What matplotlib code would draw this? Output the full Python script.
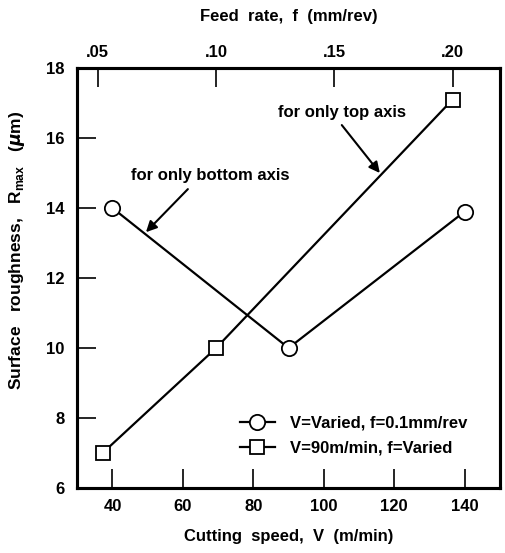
import matplotlib.pyplot as plt

plt.rcParams['font.family'] = ['Liberation Sans', 'DejaVu Sans']
plt.rcParams['font.weight'] = 'bold'
plt.rcParams['mathtext.fontset'] = 'custom'
plt.rcParams['mathtext.rm'] = 'Liberation Sans:bold'

# circles: speed varied, f = 0.1 mm/rev (bottom axis)
speed = [40, 90, 140]
ra_speed = [14.0, 10.0, 13.9]
# squares: V = 90 m/min, feed varied (top axis)
feed = [0.052, 0.10, 0.20]
ra_feed = [7.0, 10.0, 17.1]

speed_ticks = [40, 60, 80, 100, 120, 140]
feed_ticks = [0.05, 0.10, 0.15, 0.20]
feed_labels = ['.05', '.10', '.15', '.20']
ra_ticks = [6, 8, 10, 12, 14, 16, 18]

fig = plt.figure(figsize=(5.05, 5.53), dpi=100)
ax = fig.add_axes([0.153, 0.1175, 0.837, 0.7595])
ax2 = ax.twiny()

fs = 12
ax.plot(speed, ra_speed, color='black', lw=1.6, marker='o', ms=11,
        mfc='white', mec='black', mew=1.3, label='V=Varied, f=0.1mm/rev', zorder=3)
ax2.plot(feed, ra_feed, color='black', lw=1.6, marker='s', ms=10.5,
         mfc='white', mec='black', mew=1.3, label='V=90m/min, f=Varied', zorder=3)

ax.set_xlim(30, 150)
ax.set_ylim(6, 18)
ax2.set_xlim(0.0413, 0.22)
ax.set_xticks(speed_ticks)
ax.set_yticks(ra_ticks)
ax2.set_xticks(feed_ticks)
ax2.set_xticklabels(feed_labels)

ax.tick_params(axis='x', direction='in', length=14, width=1.2, pad=8,
               labelsize=fs, top=False)
ax.tick_params(axis='y', direction='in', length=14, width=1.2, pad=9,
               labelsize=fs, right=False)
ax2.tick_params(axis='x', direction='in', length=14, width=1.2, pad=6,
                labelsize=fs, bottom=False)
for a in (ax, ax2):
    for s in a.spines.values():
        s.set_linewidth(2.2)

ax.set_xlabel('Cutting  speed,  V  (m/min)', fontsize=fs, fontweight='bold', labelpad=11)
ax2.set_xlabel('Feed  rate,  f  (mm/rev)', fontsize=fs, fontweight='bold', labelpad=17)
ax.set_ylabel(r'Surface   roughness,   R$_{\mathregular{max}}$   ($\mu$m)',
              fontsize=12.5, fontweight='bold')
ax.yaxis.set_label_coords(-0.12, 0.565)

arrow = dict(arrowstyle='-|>', color='black', lw=1.5, mutation_scale=16,
             shrinkA=0, shrinkB=0)
ax.text(105.1, 16.74, 'for only top axis', ha='center', va='center',
        fontsize=fs, fontweight='bold')
ax.annotate('', xy=(115.9, 15.0), xytext=(105.1, 16.37), arrowprops=arrow)
ax.text(67.7, 14.94, 'for only bottom axis', ha='center', va='center',
        fontsize=fs, fontweight='bold')
ax.annotate('', xy=(49.5, 13.31), xytext=(61.4, 14.54), arrowprops=arrow)

h1, l1 = ax.get_legend_handles_labels()
h2, l2 = ax2.get_legend_handles_labels()
ax2.legend(h1 + h2, l1 + l2, loc='upper left', bbox_to_anchor=(0.385, 0.173),
           frameon=False, fontsize=fs, handlelength=2.1, handletextpad=0.9,
           borderpad=0, borderaxespad=0, labelspacing=0.6)

fig.savefig('out.png', dpi=100)
